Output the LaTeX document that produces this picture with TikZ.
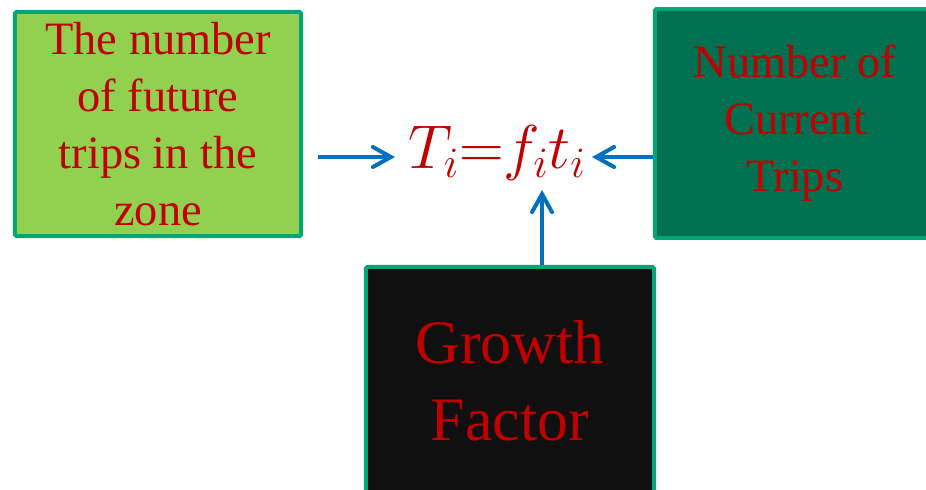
\RequirePackage{fix-cm}
\documentclass[tikz,border=0pt]{standalone}
\usepackage{fontspec}
\setmainfont{Liberation Serif}
\usepackage{tikz}
\usetikzlibrary{arrows.meta,positioning,calc}
\definecolor{boxline}{RGB}{0,166,118}
\definecolor{lightgreen}{RGB}{146,208,80}
\definecolor{darkgreen}{RGB}{0,112,80}
\definecolor{nearblack}{RGB}{16,16,16}
\definecolor{txtred}{RGB}{192,0,0}
\definecolor{flowblue}{RGB}{0,112,192}
\tikzset{
  factorbox/.style={draw=boxline, line width=1mm, rounded corners=1pt, text=txtred, align=center, inner sep=0pt},
  flow/.style={draw=flowblue, line width=1mm, -{Straight Barb[length=4.5mm, width=5mm, line cap=round]}}
}

\begin{document}
\begin{tikzpicture}[x=0.025cm, y=-0.025cm]
\useasboundingbox (0,0) rectangle (926,489);
\node[factorbox, fill=lightgreen, minimum width=7.15cm, minimum height=5.6cm, font=\fontsize{33}{40.5}\selectfont] (future) at (158,124) {The number\\of future\\trips in the\\zone};
\node[factorbox, fill=darkgreen, minimum width=7.0cm, minimum height=5.72cm, font=\fontsize{33}{40.5}\selectfont] (current) at (795,123.5) {Number of\\Current\\Trips};
\node[factorbox, fill=nearblack, minimum width=7.2cm, minimum height=5.7cm, font=\fontsize{44}{55}\selectfont] (growth) at (510,381) {Growth\\Factor};
\node[anchor=base, text=txtred, font=\fontsize{44}{50}\selectfont, inner sep=0pt] (eq) at (497,168) {$T_i{=}f_i t_i$};
\coordinate (srcL) at (318,157);
\coordinate (tipL) at (395,157);
\coordinate (tipR) at (592,157);
\coordinate (tipU) at (542,190);
\draw[flow] (srcL) -- (tipL);
\draw[flow] (current.west |- tipR) -- (tipR);
\draw[flow] (growth.north -| tipU) -- (tipU);
\end{tikzpicture}
\end{document}
